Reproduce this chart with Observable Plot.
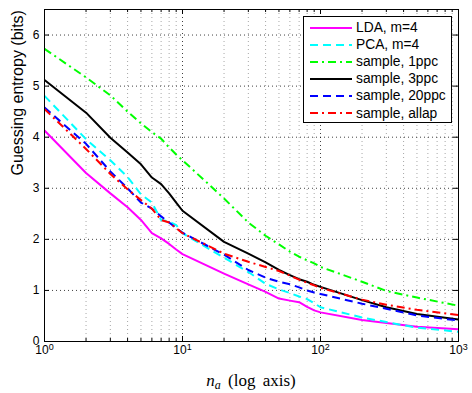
<!DOCTYPE html>
<html><head><meta charset="utf-8">
<script src="https://cdn.jsdelivr.net/npm/d3@7"></script>
<script src="https://cdn.jsdelivr.net/npm/@observablehq/plot@0.6"></script>
<style>
body{margin:0;background:#fff;}
#wrap{position:relative;width:472px;height:393px;}
#legend{position:absolute;left:303px;top:16px;width:149px;height:107px;border:1px solid #000;background:#fff;
  font-family:"Liberation Sans",Arial,Helvetica,sans-serif;font-size:13.8px;color:#000;box-sizing:border-box;}
.row{position:absolute;left:0;height:17px;display:flex;align-items:center;}
.row svg{margin-left:6px;margin-right:4px;}
</style></head><body><div id="wrap"></div>
<script>
// ---- data ----
const nValues = [1,2,3,4,5,6,7,8,9,10,20,30,40,50,60,70,80,90,100,200,300,500,1000];
const seriesNames = ["LDA, m=4","PCA, m=4","sample, 1ppc","sample, 3ppc","sample, 20ppc","sample, allap"];
const ldaM4     = [4.13,3.30,2.90,2.63,2.38,2.12,2.02,1.91,1.80,1.71,1.33,1.12,0.97,0.84,0.80,0.77,0.68,0.61,0.57,0.42,0.36,0.29,0.24];
const pcaM4     = [4.81,3.96,3.55,3.22,2.88,2.72,2.38,2.35,2.28,2.12,1.64,1.36,1.13,1.02,0.95,0.88,0.83,0.75,0.67,0.47,0.38,0.27,0.19];
const sample1   = [5.73,5.17,4.82,4.50,4.27,4.10,3.97,3.80,3.66,3.55,2.80,2.33,2.07,1.90,1.76,1.66,1.59,1.53,1.46,1.17,0.99,0.86,0.70];
const sample3   = [5.12,4.48,3.99,3.70,3.47,3.21,3.08,2.90,2.72,2.56,1.95,1.72,1.55,1.40,1.30,1.22,1.17,1.11,1.07,0.81,0.67,0.54,0.43];
const sample20  = [4.58,3.87,3.33,3.00,2.72,2.60,2.45,2.33,2.22,2.13,1.70,1.40,1.25,1.17,1.12,1.06,1.00,0.96,0.93,0.74,0.64,0.51,0.41];
const sampleAll = [4.55,3.77,3.28,2.98,2.77,2.60,2.38,2.33,2.22,2.12,1.72,1.56,1.46,1.38,1.29,1.21,1.15,1.10,1.05,0.82,0.72,0.62,0.52];
const seriesValues = [ldaM4,pcaM4,sample1,sample3,sample20,sampleAll];
const colors = ["#ff00ff","#00ffff","#00ff00","#000000","#0000ff","#ff0000"];
const dashes = [null,"8,5","8,4,2,4",null,"8,5","8,4,2,4"];
const xMajor = [1,10,100,1000];
const xMinor = [2,3,4,5,6,7,8,9,20,30,40,50,60,70,80,90,200,300,400,500,600,700,800,900];
const yTicks = [0,1,2,3,4,5,6];
const yLabel = "Guessing entropy (bits)";

const rows = [];
seriesNames.forEach((s,i)=>nValues.forEach((n,j)=>rows.push({series:s,n,v:seriesValues[i][j]})));

const W=472,H=393,mL=44,mR=14,mT=9,mB=52;
const innerW=W-mL-mR, innerH=H-mT-mB;
const font = "'Liberation Sans',Arial,Helvetica,sans-serif";
const lineMarks = seriesNames.map((s,i)=>Plot.line(rows.filter(r=>r.series===s),
  {x:"n",y:"v",stroke:colors[i],strokeWidth:2,strokeDasharray:dashes[i],strokeLinejoin:"round",strokeLinecap:"butt"}));

const tk = {stroke:"#000",strokeWidth:1};
const chart = Plot.plot({
  width:W,height:H,
  marginLeft:mL,marginRight:mR,marginTop:mT,marginBottom:mB,
  style:{fontFamily:font,background:"#fff",color:"#000"},
  x:{type:"log",domain:[1,1000],axis:null},
  y:{domain:[0,6.5],axis:null},
  marks:[
    Plot.gridX(xMinor,{stroke:"#000",strokeOpacity:0.35,strokeDasharray:"1,3"}),
    Plot.gridX(xMajor.slice(1,3),{stroke:"#000",strokeOpacity:0.75,strokeDasharray:"1,3"}),
    Plot.gridY(yTicks.slice(1),{stroke:"#000",strokeOpacity:0.75,strokeDasharray:"1,3"}),
    ...lineMarks,
    // inward ticks (MATLAB style)
    Plot.tickX(xMajor,{x:d=>d,insetTop:innerH-5,...tk}),
    Plot.tickX(xMajor,{x:d=>d,insetBottom:innerH-5,...tk}),
    Plot.tickX(xMinor,{x:d=>d,insetTop:innerH-3,...tk}),
    Plot.tickX(xMinor,{x:d=>d,insetBottom:innerH-3,...tk}),
    Plot.tickY(yTicks,{y:d=>d,insetRight:innerW-5,...tk}),
    Plot.tickY(yTicks,{y:d=>d,insetLeft:innerW-5,...tk}),
    Plot.axisX(xMajor,{anchor:"bottom",tickSize:0,tickPadding:4,fontSize:12,label:null,
      tickFormat:d=>String(Math.round(Math.log10(d)))}),
    Plot.axisY(yTicks,{anchor:"left",tickSize:0,tickPadding:5,fontSize:12,label:null,tickFormat:d=>String(d)}),
    Plot.text([yLabel],{text:d=>d,frameAnchor:"left",dx:-27,rotate:-90,fontSize:16}),
    Plot.frame({stroke:"#000",strokeWidth:1})
  ]
});

// superscript exponents on x tick labels
d3.select(chart).selectAll('g[aria-label="x-axis tick label"] text').each(function(){
  const t = d3.select(this); const e = t.text(); t.text("");
  t.append("tspan").text("10");
  t.append("tspan").attr("dy","-0.45em").attr("font-size","9px").text(e);
});

// x axis label (math-style)
const xs = chart.scale("x").range;
const xl = d3.select(chart).append("text")
  .attr("x",(xs[0]+xs[1])/2).attr("y",386).attr("text-anchor","middle")
  .attr("font-family","'Liberation Serif','DejaVu Serif',serif").attr("font-size",17)
  .attr("fill","#000");
xl.append("tspan").attr("font-style","italic").text("n");
xl.append("tspan").attr("font-style","italic").attr("font-size",12).attr("dy",3).text("a");
xl.append("tspan").attr("dy",-3).attr("word-spacing","3px").text(" (log axis)");

const wrap = document.getElementById("wrap");
wrap.appendChild(chart);

// legend overlay
const leg = document.createElement("div"); leg.id="legend"; wrap.appendChild(leg);
seriesNames.forEach((s,i)=>{
  const r = document.createElement("div"); r.className="row"; r.style.top=(2+i*17.1)+"px";
  r.innerHTML = `<svg width="42" height="6"><line x1="0" y1="3" x2="42" y2="3" stroke="${colors[i]}" stroke-width="2" ${dashes[i]?`stroke-dasharray="${dashes[i]}"`:""}/></svg><span>${s}</span>`;
  leg.appendChild(r);
});
</script></body></html>
